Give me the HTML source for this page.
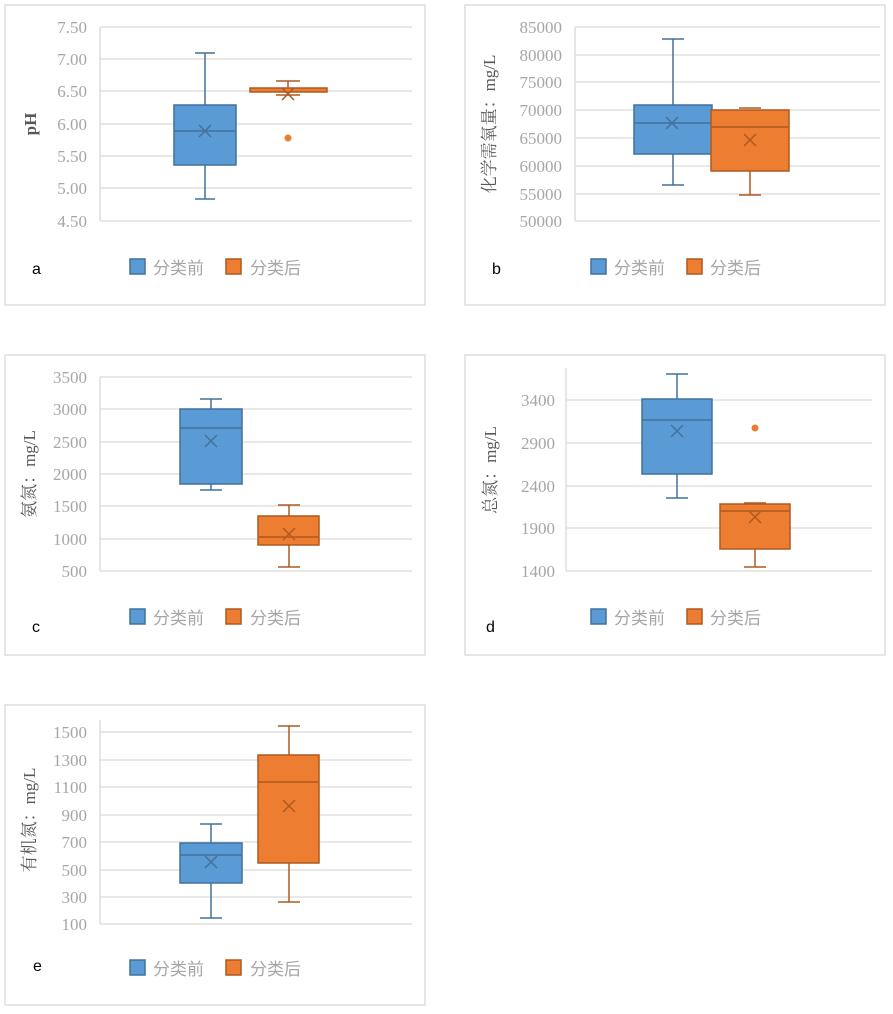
<!DOCTYPE html>
<html><head><meta charset="utf-8"><style>
html,body{margin:0;padding:0;background:#fff;}
svg{display:block;}
.t{font-family:"Liberation Serif","Noto Serif CJK SC",serif;font-size:17px;fill:#a6a6a6;text-anchor:end;}
.ax{font-family:"Liberation Serif","Noto Serif CJK SC",serif;font-size:17px;fill:#595959;text-anchor:middle;}
.lg{font-family:"Liberation Sans","Noto Sans CJK SC",sans-serif;font-size:17px;fill:#a6a6a6;}
.lb{font-family:"Liberation Sans",sans-serif;font-size:16px;fill:#000;}
.g{stroke:#d9d9d9;stroke-width:1.3;}
.bb{fill:#5b9bd5;stroke:#41719c;stroke-width:1.5;}
.ob{fill:#ed7d31;stroke:#ae5a21;stroke-width:1.5;}
.bl{stroke:#41719c;stroke-width:1.5;fill:none;}
.ol{stroke:#ae5a21;stroke-width:1.5;fill:none;}
.fr{fill:none;stroke:#d9d9d9;stroke-width:1.3;}
</style></head><body>
<svg width="893" height="1014" viewBox="0 0 893 1014" xmlns="http://www.w3.org/2000/svg">
<!-- Panel a -->
<rect class="fr" x="5" y="5" width="420" height="300"/>
<g>
<line class="g" x1="100" y1="27" x2="412" y2="27"/><line class="g" x1="100" y1="59" x2="412" y2="59"/><line class="g" x1="100" y1="91" x2="412" y2="91"/><line class="g" x1="100" y1="124" x2="412" y2="124"/><line class="g" x1="100" y1="156" x2="412" y2="156"/><line class="g" x1="100" y1="188" x2="412" y2="188"/><line class="g" x1="100" y1="221" x2="412" y2="221"/><line class="g" x1="100" y1="27" x2="100" y2="221"/>
<text class="t" x="87" y="33">7.50</text><text class="t" x="87" y="65">7.00</text><text class="t" x="87" y="97">6.50</text><text class="t" x="87" y="130">6.00</text><text class="t" x="87" y="162">5.50</text><text class="t" x="87" y="194">5.00</text><text class="t" x="87" y="227">4.50</text>
<text class="ax" transform="translate(36,124) rotate(-90)" style="font-weight:bold">pH</text>
<path class="bl" d="M205 53V105M195 53H215M205 165V199M195 199H215"/>
<rect class="bb" x="174" y="105" width="62" height="60"/>
<path class="bl" d="M174 131H236M199 125L211 137M211 125L199 137"/>
<path class="ol" d="M288 81V88M276 81H300M276 95H300"/>
<rect class="ob" x="250" y="88" width="77" height="4"/>
<path class="ol" d="M282 88L294 100M294 88L282 100"/>
<circle cx="288" cy="138" r="3.5" fill="#ed7d31"/>
<rect class="bb" x="130" y="259" width="15" height="15"/><text class="lg" x="153" y="274">分类前</text>
<rect class="ob" x="226" y="259" width="15" height="15"/><text class="lg" x="250" y="274">分类后</text>
<text class="lb" x="32" y="274">a</text>
</g>
<!-- Panel b -->
<rect class="fr" x="465" y="5" width="420" height="300"/>
<g>
<line class="g" x1="575" y1="27" x2="880" y2="27"/><line class="g" x1="575" y1="55" x2="880" y2="55"/><line class="g" x1="575" y1="82" x2="880" y2="82"/><line class="g" x1="575" y1="110" x2="880" y2="110"/><line class="g" x1="575" y1="138" x2="880" y2="138"/><line class="g" x1="575" y1="166" x2="880" y2="166"/><line class="g" x1="575" y1="194" x2="880" y2="194"/><line class="g" x1="575" y1="221" x2="880" y2="221"/><line class="g" x1="575" y1="27" x2="575" y2="221"/>
<text class="t" x="562" y="33">85000</text><text class="t" x="562" y="61">80000</text><text class="t" x="562" y="88">75000</text><text class="t" x="562" y="116">70000</text><text class="t" x="562" y="144">65000</text><text class="t" x="562" y="172">60000</text><text class="t" x="562" y="200">55000</text><text class="t" x="562" y="227">50000</text>
<text class="ax" transform="translate(495,124) rotate(-90)">化学需氧量：mg/L</text>
<path class="bl" d="M673 39V105M662 39H684M673 154V185M662 185H684"/>
<rect class="bb" x="634" y="105" width="78" height="49"/>
<path class="bl" d="M634 123H712M666 117L678 129M678 117L666 129"/>
<path class="ol" d="M750 171V195M739 195H761M739 108H761"/>
<rect class="ob" x="711" y="110" width="78" height="61"/>
<path class="ol" d="M711 127H789M744 134L756 146M756 134L744 146"/>
<rect class="bb" x="591" y="259" width="15" height="15"/><text class="lg" x="614" y="274">分类前</text>
<rect class="ob" x="687" y="259" width="15" height="15"/><text class="lg" x="710" y="274">分类后</text>
<text class="lb" x="492" y="274">b</text>
</g>
<!-- Panel c -->
<rect class="fr" x="5" y="355" width="420" height="300"/>
<g>
<line class="g" x1="100" y1="377" x2="412" y2="377"/><line class="g" x1="100" y1="409" x2="412" y2="409"/><line class="g" x1="100" y1="442" x2="412" y2="442"/><line class="g" x1="100" y1="474" x2="412" y2="474"/><line class="g" x1="100" y1="506" x2="412" y2="506"/><line class="g" x1="100" y1="539" x2="412" y2="539"/><line class="g" x1="100" y1="571" x2="412" y2="571"/><line class="g" x1="100" y1="377" x2="100" y2="571"/>
<text class="t" x="87" y="383">3500</text><text class="t" x="87" y="415">3000</text><text class="t" x="87" y="448">2500</text><text class="t" x="87" y="480">2000</text><text class="t" x="87" y="512">1500</text><text class="t" x="87" y="545">1000</text><text class="t" x="87" y="577">500</text>
<text class="ax" transform="translate(35,474) rotate(-90)">氨氮：mg/L</text>
<path class="bl" d="M211 399V409M200 399H222M211 484V490M200 490H222"/>
<rect class="bb" x="180" y="409" width="62" height="75"/>
<path class="bl" d="M180 428H242M205 435L217 447M217 435L205 447"/>
<path class="ol" d="M289 505V516M278 505H300M289 545V567M278 567H300"/>
<rect class="ob" x="258" y="516" width="61" height="29"/>
<path class="ol" d="M258 537H319M283 528L295 540M295 528L283 540"/>
<rect class="bb" x="130" y="609" width="15" height="15"/><text class="lg" x="153" y="624">分类前</text>
<rect class="ob" x="226" y="609" width="15" height="15"/><text class="lg" x="250" y="624">分类后</text>
<text class="lb" x="32" y="632">c</text>
</g>
<!-- Panel d -->
<rect class="fr" x="465" y="355" width="420" height="300"/>
<g>
<line class="g" x1="566" y1="400" x2="872" y2="400"/><line class="g" x1="566" y1="443" x2="872" y2="443"/><line class="g" x1="566" y1="486" x2="872" y2="486"/><line class="g" x1="566" y1="528" x2="872" y2="528"/><line class="g" x1="566" y1="571" x2="872" y2="571"/><line class="g" x1="566" y1="368" x2="566" y2="571"/>
<text class="t" x="555" y="406">3400</text><text class="t" x="555" y="449">2900</text><text class="t" x="555" y="492">2400</text><text class="t" x="555" y="534">1900</text><text class="t" x="555" y="577">1400</text>
<text class="ax" transform="translate(496,470) rotate(-90)">总氮：mg/L</text>
<path class="bl" d="M677 374V399M666 374H688M677 474V498M666 498H688"/>
<rect class="bb" x="642" y="399" width="70" height="75"/>
<path class="bl" d="M642 420H712M671 425L683 437M683 425L671 437"/>
<path class="ol" d="M755 549V567M744 567H766M744 503H766"/>
<rect class="ob" x="720" y="504" width="70" height="45"/>
<path class="ol" d="M720 511H790M749 511L761 523M761 511L749 523"/>
<circle cx="755" cy="428" r="3.5" fill="#ed7d31"/>
<rect class="bb" x="591" y="609" width="15" height="15"/><text class="lg" x="614" y="624">分类前</text>
<rect class="ob" x="687" y="609" width="15" height="15"/><text class="lg" x="710" y="624">分类后</text>
<text class="lb" x="486" y="632">d</text>
</g>
<!-- Panel e -->
<rect class="fr" x="5" y="705" width="420" height="300"/>
<g>
<line class="g" x1="100" y1="732" x2="412" y2="732"/><line class="g" x1="100" y1="760" x2="412" y2="760"/><line class="g" x1="100" y1="787" x2="412" y2="787"/><line class="g" x1="100" y1="815" x2="412" y2="815"/><line class="g" x1="100" y1="842" x2="412" y2="842"/><line class="g" x1="100" y1="870" x2="412" y2="870"/><line class="g" x1="100" y1="897" x2="412" y2="897"/><line class="g" x1="100" y1="924" x2="412" y2="924"/><line class="g" x1="100" y1="720" x2="100" y2="924"/>
<text class="t" x="87" y="738">1500</text><text class="t" x="87" y="766">1300</text><text class="t" x="87" y="793">1100</text><text class="t" x="87" y="821">900</text><text class="t" x="87" y="848">700</text><text class="t" x="87" y="876">500</text><text class="t" x="87" y="903">300</text><text class="t" x="87" y="930">100</text>
<text class="ax" transform="translate(35,820) rotate(-90)">有机氮：mg/L</text>
<path class="bl" d="M211 824V843M200 824H222M211 883V918M200 918H222"/>
<rect class="bb" x="180" y="843" width="62" height="40"/>
<path class="bl" d="M180 855H242M205 856L217 868M217 856L205 868"/>
<path class="ol" d="M289 726V755M278 726H300M289 863V902M278 902H300"/>
<rect class="ob" x="258" y="755" width="61" height="108"/>
<path class="ol" d="M258 782H319M283 800L295 812M295 800L283 812"/>
<rect class="bb" x="130" y="960" width="15" height="15"/><text class="lg" x="153" y="975">分类前</text>
<rect class="ob" x="226" y="960" width="15" height="15"/><text class="lg" x="250" y="975">分类后</text>
<text class="lb" x="33" y="971">e</text>
</g>
</svg>
</body></html>
